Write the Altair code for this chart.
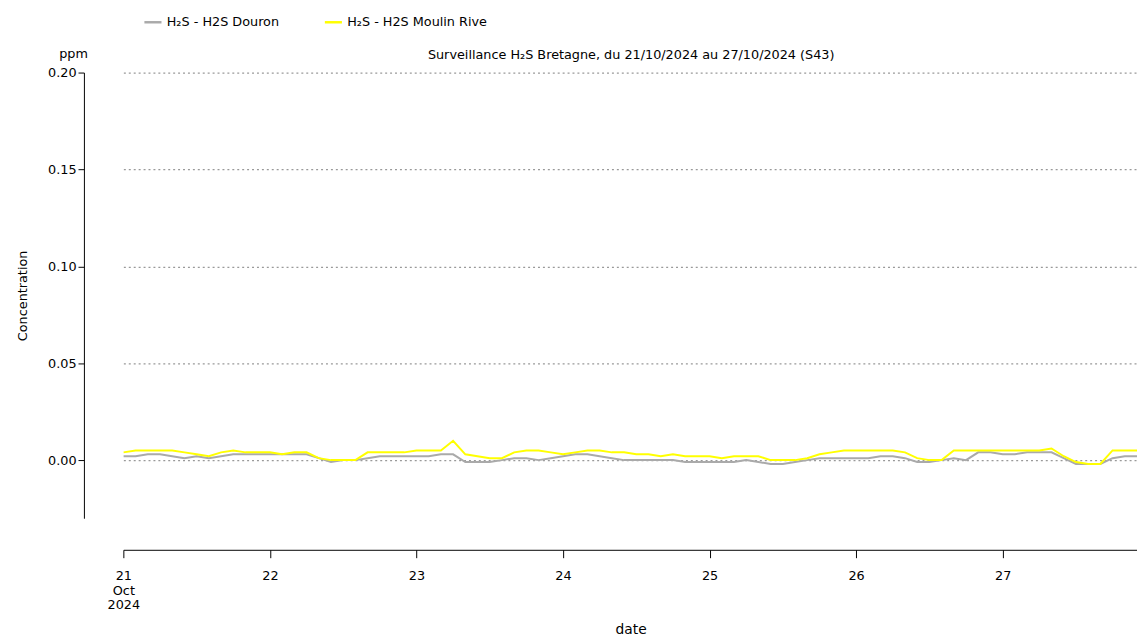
import altair as alt
import pandas as pd

douron = [2,2,3,3,2,1,2,1,2,3,3,3,
          3,3,3,3,1,-1,0,0,1,2,2,2,
          2,2,3,3,-1,-1,-1,0,1,1,0,1,
          2,3,3,2,1,0,0,0,0,0,-1,-1,
          -1,-1,-1,0,-1,-2,-2,-1,0,1,1,1,
          1,1,2,2,1,-1,-1,0,1,0,4,4,
          3,3,4,4,4,1,-2,-2,-2,1,2,2]
moulin = [4,5,5,5,5,4,3,2,4,5,4,4,
          4,3,4,4,1,0,0,0,4,4,4,4,
          5,5,5,10,3,2,1,1,4,5,5,4,
          3,4,5,5,4,4,3,3,2,3,2,2,
          2,1,2,2,2,0,0,0,1,3,4,5,
          5,5,5,5,4,1,0,0,5,5,5,5,
          5,5,5,5,6,2,-1,-2,-2,5,5,5]
times = pd.date_range("2024-10-21 00:00", periods=len(douron), freq="2h")
names = ["H₂S - H2S Douron", "H₂S - H2S Moulin Rive"]
rows = []
for t, a, b in zip(times, douron, moulin):
    ts = t.strftime("%Y-%m-%dT%H:%M:%S")
    rows.append({"date": ts, "v": a / 1000, "s": names[0]})
    rows.append({"date": ts, "v": b / 1000, "s": names[1]})
df = pd.DataFrame(rows)

font = "DejaVu Sans"
lines = alt.Chart(df).mark_line(strokeWidth=2, clip=True).encode(
    x=alt.X("date:T", title=None,
            scale=alt.Scale(domain=[alt.DateTime(year=2024, month=10, date=21, hours=0),
                                    alt.DateTime(year=2024, month=10, date=27, hours=22)]),
            axis=alt.Axis(offset=32, grid=False, tickCount={"interval": "day", "step": 1},
                          labelExpr="date(datum.value)==21 ? ['21','Oct','2024'] : timeFormat(datum.value,'%d')",
                          labelAlign="center", labelFlush=False,
                          labelFontSize=13, tickSize=8, labelPadding=12,
                          domainColor="black", tickColor="black", labelColor="black")),
    y=alt.Y("v:Q", title="Concentration",
            scale=alt.Scale(domain=[-0.03, 0.2], nice=False, zero=False),
            axis=alt.Axis(offset=40, values=[0, 0.05, 0.1, 0.15, 0.2], format=".2f",
                          grid=True, gridDash=[2, 3], gridColor="#999999", gridWidth=1.2,
                          labelFontSize=13, titleFontSize=13, tickSize=6,
                          domainColor="black", tickColor="black", labelColor="black",
                          titleFontWeight="normal", titlePadding=18)),
    color=alt.Color("s:N", scale=alt.Scale(domain=names, range=["#aaaaaa", "#ffff00"]),
                    legend=alt.Legend(title=None, orient="none", legendX=20, legendY=-61,
                                      direction="horizontal", labelFontSize=13,
                                      symbolType="stroke", symbolStrokeWidth=2.5,
                                      symbolSize=300, columnPadding=40, labelColor="black")),
)
ppm = alt.Chart(pd.DataFrame({"t": ["ppm"]})).mark_text(
    font=font, fontSize=13, align="right", baseline="bottom"
).encode(x=alt.value(-36), y=alt.value(-12), text="t:N")
ttl = alt.Chart(pd.DataFrame({"t": ["Surveillance H₂S Bretagne, du 21/10/2024 au 27/10/2024 (S43)"]})).mark_text(
    font=font, fontSize=13, align="center", baseline="bottom"
).encode(x=alt.value(515), y=alt.value(-11), text="t:N")
xt = alt.Chart(pd.DataFrame({"t": ["date"]})).mark_text(
    font=font, fontSize=14, align="center", baseline="middle"
).encode(x=alt.value(515), y=alt.value(565), text="t:N")

chart = alt.layer(lines, ppm, ttl, xt).properties(
    width=1028, height=452,
    autosize="none", padding={"left": 117, "top": 61, "right": 0, "bottom": 118},
).configure(font=font).configure_view(stroke=None)

chart.save("out.html", embed_options={"renderer": "svg", "actions": False})
